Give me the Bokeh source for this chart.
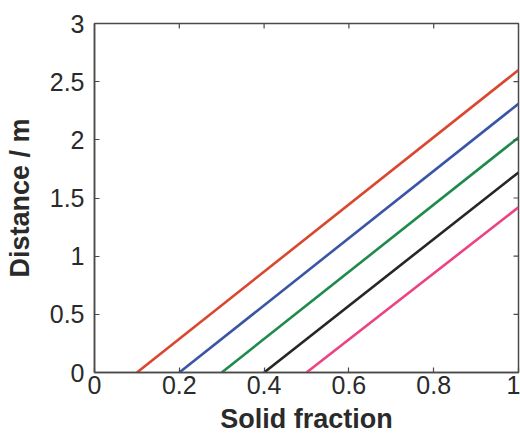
import math
from bokeh.plotting import figure
from bokeh.models import FixedTicker, Range1d
from bokeh.embed import file_html
from bokeh.resources import INLINE

# data
start_fraction = [0.1, 0.2, 0.3, 0.4, 0.5]
end_fraction = [1.0, 1.0, 1.0, 1.0, 1.0]
end_distance = [2.6, 2.31, 2.02, 1.72, 1.42]
colors = ["#d9472f", "#3b55a6", "#1e8a4c", "#262626", "#ec4385"]
x_ticks = [0, 0.2, 0.4, 0.6, 0.8, 1]
y_ticks = [0, 0.5, 1, 1.5, 2, 2.5, 3]

FONT = "Liberation Sans"
AX = "#4a4a4a"
TXT = "#2a2a2a"

p = figure(width=520, height=436, output_backend="svg", toolbar_location=None,
           x_range=Range1d(0, 1), y_range=Range1d(0, 3),
           min_border_left=94, min_border_top=23, min_border_right=2, min_border_bottom=64)
p.outline_line_color = AX
p.outline_line_width = 1.5
p.grid.visible = False
p.background_fill_color = "white"
p.border_fill_color = "white"

for x0, x1, y1, c in zip(start_fraction, end_fraction, end_distance, colors):
    p.line([x0, x1], [0, y1], line_color=c, line_width=2.6)

# mirrored inward ticks on top and right
xmax = p.x_range.end
ymax = p.y_range.end
inner_x = x_ticks[1:-1]
inner_y = y_ticks[1:-1]
p.ray(x=inner_x, y=[ymax] * len(inner_x), length=5, length_units="screen",
      angle=-math.pi / 2, line_color=AX, line_width=1.2)
p.ray(x=[xmax] * len(inner_y), y=inner_y, length=5, length_units="screen",
      angle=math.pi, line_color=AX, line_width=1.2)

def style(ax):
    ax.axis_line_color = AX
    ax.axis_line_width = 1.5
    ax.major_tick_line_color = AX
    ax.major_tick_line_width = 1.2
    ax.major_tick_in = 5
    ax.major_tick_out = 0
    ax.minor_tick_line_color = None
    ax.major_label_text_font = FONT
    ax.major_label_text_color = TXT
    ax.major_label_text_font_size = "25px"

xa = p.xaxis[0]
xa.ticker = FixedTicker(ticks=x_ticks)
xa.major_label_overrides = {0: "0", 1: "1"}
style(xa)
xa.major_label_standoff = 3
xa.axis_label = "Solid fraction"
xa.axis_label_text_font = FONT
xa.axis_label_text_font_style = "bold"
xa.axis_label_text_font_size = "27px"
xa.axis_label_text_color = TXT
xa.axis_label_standoff = 7

ya = p.yaxis[0]
ya.ticker = FixedTicker(ticks=y_ticks)
ya.major_label_overrides = {0: "0", 1: "1", 2: "2", 3: "3"}
style(ya)
ya.major_label_standoff = 10
ya.axis_label = "Distance / m"
ya.axis_label_text_font = FONT
ya.axis_label_text_font_style = "bold"
ya.axis_label_text_font_size = "27px"
ya.axis_label_text_color = TXT
ya.axis_label_standoff = 12

open("out.html", "w").write(file_html(p, INLINE))
